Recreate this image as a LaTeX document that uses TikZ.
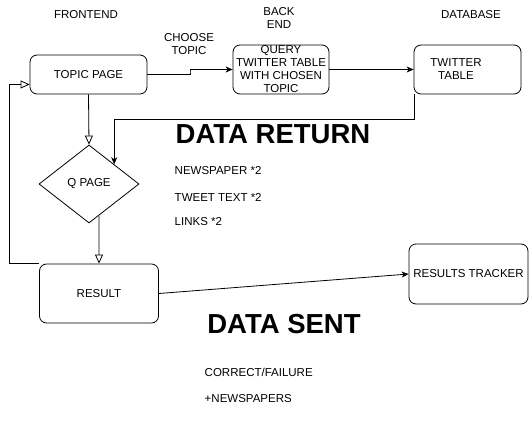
\documentclass[tikz,border=0pt]{standalone}
\usepackage{fontspec}
\setmainfont{Liberation Sans}
\usetikzlibrary{calc,arrows.meta,shapes.geometric}

\begin{document}
\begin{tikzpicture}[x=1pt,y=-1pt,font=\fontsize{11.5}{13}\selectfont,line width=0.8pt,
  box/.style={draw,rounded corners=7pt,inner sep=0pt},
  flow/.style={-{Stealth[length=7pt,width=6pt,inset=2pt]}},
  open/.style={-{Triangle[open,length=9pt,width=8pt,line width=0.8pt]}},
  big/.style={font=\fontsize{27.5}{30}\selectfont\bfseries}]
  \useasboundingbox (0,0) rectangle (530,425);
  % column headings
  \node (hfront) at (86,15) {FRONTEND};
  \node[align=center] (hback) at (279,18) {BACK\\END};
  \node (hdb) at (471,15) {DATABASE};
  % boxes
  \node[box,minimum width=117pt,minimum height=39pt] (topic) at (88.5,74.5) {TOPIC PAGE};
  \node[box,minimum width=96pt,minimum height=49pt] (query) at (281,69.5) {};
  \node[align=center] (querytxt) at (query) {QUERY\\TWITTER TABLE\\WITH CHOSEN\\TOPIC};
  \node[box,minimum width=107pt,minimum height=49pt] (twitter) at (467.5,69.5) {};
  \node[align=center] (twittertxt) at (456,69.5) {TWITTER\\TABLE};
  \node[draw,diamond,aspect=1.28,inner sep=0pt,minimum width=100pt,minimum height=78pt] (qpage) at (89,184) {Q PAGE};
  \node[box,minimum width=119pt,minimum height=59pt] (result) at (99,293.5) {RESULT};
  \node[box,minimum width=119pt,minimum height=60pt] (tracker) at (468.5,274) {RESULTS TRACKER};
  % choose topic
  \coordinate (step1) at ($(topic.east)!0.5!(query.west)$);
  \draw[flow] (topic.east) -| (step1) |- (query.west);
  \node[align=center] (choose) at (189,44.5) {CHOOSE\\TOPIC};
  \draw[flow] (query) -- (twitter);
  % data return
  \coordinate (tout) at ($(twitter.south west)+(1,0)$);
  \draw[flow] (tout) |- ($(qpage.north east)+(0,-45)$) -- (qpage.north east);
  \node[big] (dreturn) at (273,134) {DATA RETURN};
  \node[anchor=west] (news) at (171,171) {NEWSPAPER *2};
  \node[anchor=west] (tweet) at (171,197) {TWEET TEXT *2};
  \node[anchor=west] (links) at (171,222) {LINKS *2};
  % frontend flow
  \draw[open] (topic.south) -- (qpage.north);
  \coordinate (qout) at ($(qpage.south)!0.2!(qpage.east)$);
  \draw[open] (qout) -- (result.north);
  \coordinate (back) at ($(result.north west)+(-30,0)$);
  \draw[open] (result.north west) -- (back) |- ($(topic.south west)!0.25!(topic.north west)$);
  % data sent
  \draw[flow] (result.east) -- (tracker.west);
  \node[big] (dsent) at (284,324) {DATA SENT};
  \node[anchor=west] (correct) at (201,372) {CORRECT/FAILURE};
  \node[anchor=west] (plusnews) at (201,399) {+NEWSPAPERS};
\end{tikzpicture}
\end{document}
